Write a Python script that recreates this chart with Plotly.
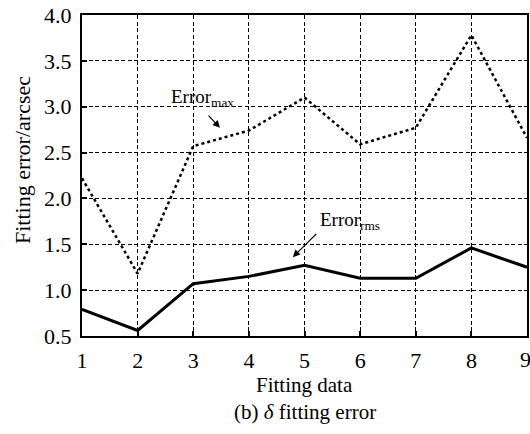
import plotly.graph_objects as go

x_data = [1, 2, 3, 4, 5, 6, 7, 8, 9]
error_max = [2.22, 1.18, 2.57, 2.74, 3.10, 2.59, 2.77, 3.78, 2.66]
error_rms = [0.79, 0.56, 1.07, 1.15, 1.27, 1.13, 1.13, 1.46, 1.25]
y_ticks = [0.5, 1.0, 1.5, 2.0, 2.5, 3.0, 3.5, 4.0]
x_ticks = [1, 2, 3, 4, 5, 6, 7, 8]  # "9" drawn separately (sits on the page edge)

FONT = "Liberation Serif, Times New Roman, serif"

fig = go.Figure()
fig.add_trace(go.Scatter(x=x_data, y=error_max, mode="lines",
                         line=dict(color="black", width=2.5, dash="dot"),
                         showlegend=False))
fig.add_trace(go.Scatter(x=x_data, y=error_rms, mode="lines",
                         line=dict(color="black", width=3),
                         showlegend=False))

fig.add_annotation(x=3.48, y=2.77, ax=3.25, ay=2.92, xref="x", yref="y",
                   axref="x", ayref="y", text="", showarrow=True,
                   arrowhead=2, arrowsize=1.2, arrowwidth=1.2, arrowcolor="black")
fig.add_annotation(x=3.17, y=3.09, xref="x", yref="y", text="Error<sub>max</sub>",
                   showarrow=False, font=dict(family=FONT, size=19, color="black"))
fig.add_annotation(x=4.79, y=1.36, ax=5.24, ay=1.63, xref="x", yref="y",
                   axref="x", ayref="y", text="", showarrow=True,
                   arrowhead=2, arrowsize=1.2, arrowwidth=1.2, arrowcolor="black")
fig.add_annotation(x=5.82, y=1.75, xref="x", yref="y", text="Error<sub>rms</sub>",
                   showarrow=False, font=dict(family=FONT, size=19, color="black"))

# last x tick label at the right page edge
fig.add_annotation(x=9, y=0, xref="x", yref="paper", yanchor="top", xshift=-2, yshift=-9,
                   text="9", showarrow=False,
                   font=dict(family=FONT, size=22, color="black"))

# axis titles and caption
fig.add_annotation(x=0.5, y=-(385 - 336) / 321, xref="paper", yref="paper",
                   xanchor="center", yanchor="middle",
                   text="Fitting data", showarrow=False,
                   font=dict(family=FONT, size=21, color="black"))
fig.add_annotation(x=0.5, y=-(412 - 336) / 321, xref="paper", yref="paper",
                   xanchor="center", yanchor="middle",
                   text="(b) <i>δ</i> fitting error", showarrow=False,
                   font=dict(family=FONT, size=21, color="black"))
fig.add_annotation(x=-(82 - 22) / 445, y=(336 - 160) / 321, xref="paper", yref="paper",
                   xanchor="center", yanchor="middle", textangle=-90,
                   text="Fitting error/arcsec", showarrow=False,
                   font=dict(family=FONT, size=22, color="black"))

axis_common = dict(showline=True, linecolor="black", linewidth=2, mirror=True,
                   showgrid=True, gridcolor="black", gridwidth=1.3,
                   griddash="4px,2.5px", zeroline=False,
                   ticks="inside", ticklen=5, tickwidth=1.5, tickcolor="black",
                   automargin=False,
                   tickfont=dict(family=FONT, size=22, color="black"))

fig.update_xaxes(range=[1, 9], tickvals=x_ticks, ticklabelstandoff=4, **axis_common)
fig.update_yaxes(range=[0.5, 4.0], tickvals=y_ticks,
                 ticktext=[f"{v:.1f}" for v in y_ticks], ticklabelstandoff=4,
                 **axis_common)

fig.update_layout(width=530, height=434, margin=dict(l=82, r=3, t=15, b=98),
                  plot_bgcolor="white", paper_bgcolor="white",
                  font=dict(family=FONT, color="black"))

fig.write_html("out.html")
